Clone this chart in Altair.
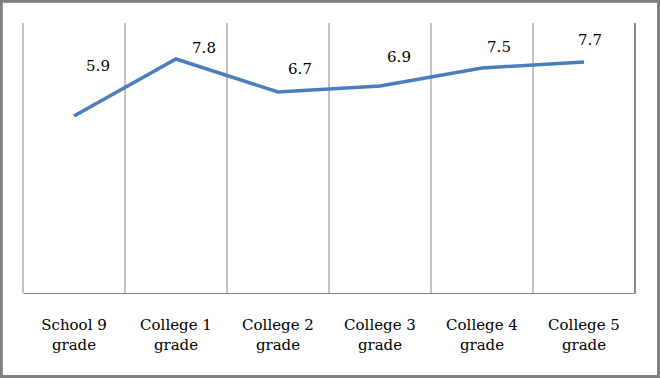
import altair as alt
import pandas as pd

categories = ["School 9 grade", "College 1 grade", "College 2 grade",
              "College 3 grade", "College 4 grade", "College 5 grade"]
values = [5.9, 7.8, 6.7, 6.9, 7.5, 7.7]

df = pd.DataFrame({"cat": categories, "value": values})

W, H = 612, 270
GRAY = "#868686"
LINE = "#4a7ebb"
FONT = "DejaVu Serif"

xscale = alt.Scale(type="band", domain=categories, paddingInner=0, paddingOuter=0)
yscale = alt.Scale(domain=[0, 9])
xaxis = alt.Axis(labelAngle=0, ticks=False, grid=False, domain=True,
                 domainColor=GRAY, labelFont=FONT, labelFontSize=15,
                 labelColor="black", labelBaseline="top", labelPadding=24,
                 labelLineHeight=20, title=None,
                 labelExpr="[replace(datum.label, ' grade', ''), 'grade']")

base = alt.Chart(df)

grid = base.mark_rule(color=GRAY, strokeWidth=1).encode(
    x=alt.X("cat:N", scale=xscale, bandPosition=0, axis=xaxis),
    y=alt.value(0), y2=alt.value(H),
)
right_edge = base.mark_rule(color=GRAY, strokeWidth=1).encode(
    x=alt.value(W), y=alt.value(0), y2=alt.value(H)
)

line = base.mark_line(color=LINE, strokeWidth=3.5).encode(
    x=alt.X("cat:N", scale=xscale, axis=xaxis),
    y=alt.Y("value:Q", scale=yscale, axis=None),
)

# label nudges (dx, dy) relative to each point, as placed in the original
nudges = [(24, -50), (28, -11), (22, -23), (19, -29), (17, -21), (6, -22)]
labels = []
for c, (dx, dy) in zip(categories, nudges):
    labels.append(
        base.transform_filter(alt.datum.cat == c).mark_text(
            font=FONT, fontSize=15, color="black", dx=dx, dy=dy,
            align="center", baseline="middle"
        ).encode(
            x=alt.X("cat:N", scale=xscale, axis=xaxis),
            y=alt.Y("value:Q", scale=yscale, axis=None),
            text=alt.Text("value:Q", format=".1f"),
        )
    )

frame = base.mark_rect(fill=None, stroke="#808080", strokeWidth=2.5).encode(
    x=alt.value(-22), x2=alt.value(635.5), y=alt.value(-22), y2=alt.value(353.5)
)

chart = alt.layer(grid, right_edge, line, *labels, frame).properties(
    width=W, height=H,
    autosize=alt.AutoSizeParams(type="none"),
    padding={"left": 23, "top": 23, "right": 25, "bottom": 85},
    background="white",
).configure_view(stroke=None)

chart.save("out.html", embed_options={"renderer": "svg", "actions": False})
